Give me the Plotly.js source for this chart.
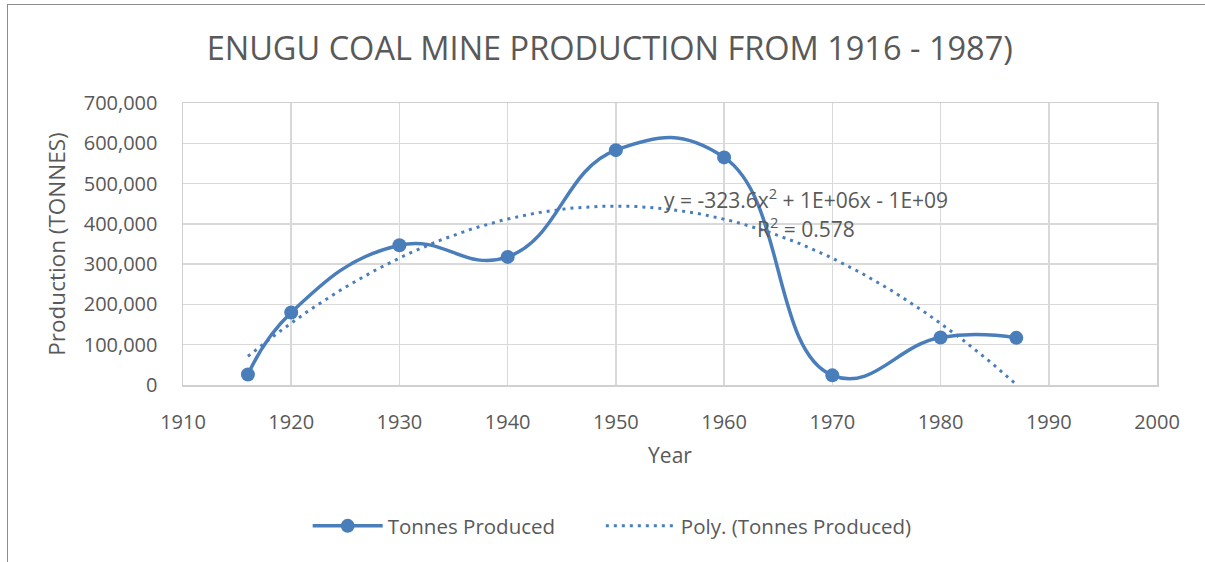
<!DOCTYPE html>
<html>
<head>
<meta charset="utf-8">
<script src="https://cdn.plot.ly/plotly-3.0.1.min.js"></script>
<style>
html,body{margin:0;padding:0;background:#fff;overflow:hidden;}
#chart{position:absolute;left:0;top:0;width:1205px;height:562px;}
#frame{position:absolute;left:7px;top:4px;width:1400px;height:800px;border:1.5px solid #8c8c8c;pointer-events:none;}
</style>
</head>
<body>
<div id="chart"></div>
<div id="frame"></div>
<script>
// Data
const years = [1916, 1920, 1930, 1940, 1950, 1960, 1970, 1980, 1987];
const tonnes = [26000, 180000, 347000, 318000, 583000, 565000, 24000, 118000, 117000];
const xTicks = [1910, 1920, 1930, 1940, 1950, 1960, 1970, 1980, 1990, 2000];
const yTicks = [0, 100000, 200000, 300000, 400000, 500000, 600000, 700000];
const seriesName = 'Tonnes Produced';
const trendName = 'Poly. (Tonnes Produced)';
const equationText = 'y = -323.6x<sup>2</sup> + 1E+06x - 1E+09';
const r2Text = 'R<sup>2</sup> = 0.578';

// Order-2 polynomial least-squares fit of the data (the Excel trendline)
function polyFit2(xs, ys) {
  const n = xs.length;
  const mx = xs.reduce((a, b) => a + b, 0) / n;
  const u = xs.map(x => x - mx);
  let S = [0,0,0,0,0], T = [0,0,0];
  for (let i = 0; i < n; i++) {
    for (let k = 0; k < 5; k++) S[k] += Math.pow(u[i], k);
    for (let k = 0; k < 3; k++) T[k] += ys[i] * Math.pow(u[i], k);
  }
  const M = [[S[0],S[1],S[2],T[0]],[S[1],S[2],S[3],T[1]],[S[2],S[3],S[4],T[2]]];
  for (let c = 0; c < 3; c++) {
    for (let r = c + 1; r < 3; r++) {
      const f = M[r][c] / M[c][c];
      for (let k = c; k < 4; k++) M[r][k] -= f * M[c][k];
    }
  }
  const b = [0,0,0];
  for (let r = 2; r >= 0; r--) {
    let s = M[r][3];
    for (let k = r + 1; k < 3; k++) s -= M[r][k] * b[k];
    b[r] = s / M[r][r];
  }
  return x => b[0] + b[1] * (x - mx) + b[2] * (x - mx) * (x - mx);
}
const fit = polyFit2(years, tonnes);
const trendX = [];
for (let x = years[0]; x <= years[years.length - 1] + 1e-9; x += 0.5) trendX.push(x);
const trendY = trendX.map(fit);

const blue = '#4a7ebb';
const grey = '#595959';
const font = 'Open Sans, sans-serif';

const traces = [
  {
    x: years, y: tonnes, name: seriesName, type: 'scatter', mode: 'lines+markers',
    legend: 'legend',
    line: {color: blue, width: 3.5, shape: 'spline', smoothing: 1.3},
    marker: {color: blue, size: 14}
  },
  {
    x: trendX, y: trendY, name: trendName, type: 'scatter', mode: 'lines',
    legend: 'legend2',
    line: {color: blue, width: 3, dash: '3px,5px'}, hoverinfo: 'skip'
  }
];

const legendCommon = {
  orientation: 'h', y: -0.5, yanchor: 'middle', xanchor: 'left',
  font: {family: font, size: 20.5, color: grey}, itemwidth: 70,
  bgcolor: 'rgba(0,0,0,0)'
};

const layout = {
  width: 1205, height: 562,
  margin: {l: 183, r: 48, t: 103, b: 177},
  paper_bgcolor: '#fff', plot_bgcolor: '#fff',
  font: {family: font, color: grey, size: 20},
  title: {text: 'ENUGU COAL MINE PRODUCTION FROM 1916 - 1987)', font: {family: font, size: 32.5, color: grey},
          x: 0.506, xanchor: 'center', y: 0.913, yanchor: 'middle'},
  xaxis: {
    range: [1910, 2000], tickvals: xTicks, ticktext: xTicks.map(String),
    showgrid: true, gridcolor: '#d9d9d9', gridwidth: 1.5,
    showline: true, linecolor: '#d0d0d0', linewidth: 1.5, mirror: true,
    zeroline: false, ticks: '', ticklabelstandoff: 18,
    tickfont: {family: font, size: 20, color: grey},
    title: {text: 'Year', font: {family: font, size: 21, color: grey}, standoff: 15}
  },
  yaxis: {
    range: [0, 700000], tickvals: yTicks, ticktext: yTicks.map(v => v.toLocaleString('en-US')),
    showgrid: true, gridcolor: '#d9d9d9', gridwidth: 1.5,
    showline: true, linecolor: '#d0d0d0', linewidth: 1.5, mirror: true,
    zeroline: false, ticks: '', ticklabelstandoff: 20,
    tickfont: {family: font, size: 20, color: grey},
    title: {text: 'Production (TONNES)', font: {family: font, size: 22.5, color: grey}, standoff: 12}
  },
  showlegend: true,
  legend: Object.assign({}, legendCommon, {x: 0.128}),
  legend2: Object.assign({}, legendCommon, {x: 0.429}),
  annotations: [
    {x: 1967.6, y: 462000, xref: 'x', yref: 'y', text: equationText, showarrow: false,
     font: {family: font, size: 21, color: grey}, xanchor: 'center', yanchor: 'middle'},
    {x: 1967.6, y: 390000, xref: 'x', yref: 'y', text: r2Text, showarrow: false,
     font: {family: font, size: 21, color: grey}, xanchor: 'center', yanchor: 'middle'}
  ]
};

Plotly.newPlot('chart', traces, layout, {displayModeBar: false, staticPlot: true});
</script>
</body>
</html>
